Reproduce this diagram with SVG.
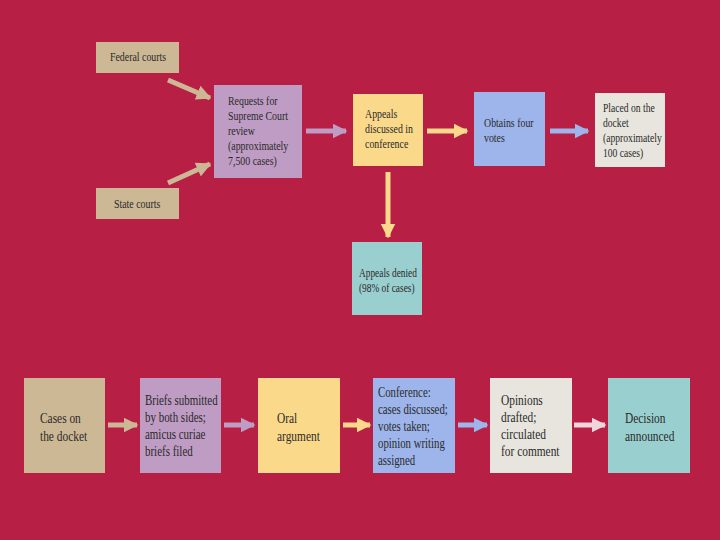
<svg xmlns="http://www.w3.org/2000/svg" width="720" height="540" viewBox="0 0 720 540">
<defs>
<style>
text{font-family:"Liberation Serif","DejaVu Serif",serif;font-size:13px;fill:#2a2a2a}
text.b{font-size:15px}
.tan{fill:#CDB896}.pur{fill:#BE9CC3}.yel{fill:#FBD98A}.blu{fill:#9DB5EB}.gry{fill:#E7E5DD}.tea{fill:#9ACFCF}
.c{stroke-width:5;fill:none}
</style>
<marker id="aT" viewBox="0 0 10 10" refX="9" refY="5" markerWidth="3" markerHeight="3" orient="auto"><path d="M0,0L10,5L0,10z" fill="#CDB896"/></marker>
<marker id="aP" viewBox="0 0 10 10" refX="9" refY="5" markerWidth="3" markerHeight="3" orient="auto"><path d="M0,0L10,5L0,10z" fill="#BE9CC3"/></marker>
<marker id="aY" viewBox="0 0 10 10" refX="9" refY="5" markerWidth="3" markerHeight="3" orient="auto"><path d="M0,0L10,5L0,10z" fill="#FBD98A"/></marker>
<marker id="aB" viewBox="0 0 10 10" refX="9" refY="5" markerWidth="3" markerHeight="3" orient="auto"><path d="M0,0L10,5L0,10z" fill="#9DB5EB"/></marker>
<marker id="aG" viewBox="0 0 10 10" refX="9" refY="5" markerWidth="3" markerHeight="3" orient="auto"><path d="M0,0L10,5L0,10z" fill="#F0D6DC"/></marker>
</defs>
<rect width="720" height="540" fill="#B71F44"/>
<g id="connectors">
<line class="c" x1="168" y1="80" x2="210" y2="98" stroke="#CDB896" marker-end="url(#aT)"/>
<line class="c" x1="168" y1="183" x2="210" y2="164" stroke="#CDB896" marker-end="url(#aT)"/>
<line class="c" x1="306" y1="131" x2="346" y2="131" stroke="#BE9CC3" marker-end="url(#aP)"/>
<line class="c" x1="427" y1="131" x2="467" y2="131" stroke="#FBD98A" marker-end="url(#aY)"/>
<line class="c" x1="550" y1="131" x2="588" y2="131" stroke="#9DB5EB" marker-end="url(#aB)"/>
<line class="c" x1="388" y1="172" x2="388" y2="237" stroke="#FBD98A" marker-end="url(#aY)"/>
<line class="c" x1="108" y1="425" x2="137" y2="425" stroke="#CDB896" marker-end="url(#aT)"/>
<line class="c" x1="224" y1="425" x2="254" y2="425" stroke="#BE9CC3" marker-end="url(#aP)"/>
<line class="c" x1="343" y1="425" x2="370" y2="425" stroke="#FBD98A" marker-end="url(#aY)"/>
<line class="c" x1="458" y1="425" x2="487" y2="425" stroke="#9DB5EB" marker-end="url(#aB)"/>
<line class="c" x1="574" y1="425" x2="605" y2="425" stroke="#F0D6DC" marker-end="url(#aG)"/>
</g>
<g id="federal"><rect class="tan" x="96" y="42" width="83" height="31"/><g transform="translate(110,0) scale(0.76,1)"><text x="0" y="61">Federal courts</text></g></g>
<g id="state"><rect class="tan" x="96" y="188" width="83" height="31"/><g transform="translate(114,0) scale(0.76,1)"><text x="0" y="208">State courts</text></g></g>
<g id="requests"><rect class="pur" x="214" y="85" width="88" height="93"/><g transform="translate(228,0) scale(0.76,1)"><text x="0" y="105">Requests for</text><text x="0" y="120">Supreme Court</text><text x="0" y="135">review</text><text x="0" y="150">(approximately</text><text x="0" y="165">7,500 cases)</text></g></g>
<g id="appeals"><rect class="yel" x="353" y="94" width="70" height="72"/><g transform="translate(365,0) scale(0.76,1)"><text x="0" y="118">Appeals</text><text x="0" y="133">discussed in</text><text x="0" y="148">conference</text></g></g>
<g id="votes"><rect class="blu" x="474" y="92" width="71" height="74"/><g transform="translate(484,0) scale(0.76,1)"><text x="0" y="127">Obtains four</text><text x="0" y="142">votes</text></g></g>
<g id="placed"><rect class="gry" x="595" y="93" width="70" height="74"/><g transform="translate(603,0) scale(0.74,1)"><text x="0" y="112">Placed on the</text><text x="0" y="127">docket</text><text x="0" y="142">(approximately</text><text x="0" y="157">100 cases)</text></g></g>
<g id="denied"><rect class="tea" x="352" y="242" width="70" height="73"/><g transform="translate(359,0) scale(0.72,1)"><text x="0" y="277">Appeals denied</text><text x="0" y="292">(98% of cases)</text></g></g>
<g id="cases"><rect class="tan" x="24" y="378" width="81" height="95"/><g transform="translate(40,0) scale(0.76,1)"><text class="b" x="0" y="423">Cases on</text><text class="b" x="0" y="441">the docket</text></g></g>
<g id="briefs"><rect class="pur" x="140" y="378" width="81" height="95"/><g transform="translate(145,0) scale(0.73,1)"><text class="b" x="0" y="405">Briefs submitted</text><text class="b" x="0" y="422">by both sides;</text><text class="b" x="0" y="439">amicus curiae</text><text class="b" x="0" y="456">briefs filed</text></g></g>
<g id="oral"><rect class="yel" x="258" y="378" width="82" height="95"/><g transform="translate(277,0) scale(0.76,1)"><text class="b" x="0" y="423">Oral</text><text class="b" x="0" y="441">argument</text></g></g>
<g id="conference"><rect class="blu" x="373" y="378" width="82" height="95"/><g transform="translate(378,0) scale(0.72,1)"><text class="b" x="0" y="397">Conference:</text><text class="b" x="0" y="414">cases discussed;</text><text class="b" x="0" y="431">votes taken;</text><text class="b" x="0" y="448">opinion writing</text><text class="b" x="0" y="465">assigned</text></g></g>
<g id="opinions"><rect class="gry" x="490" y="378" width="82" height="95"/><g transform="translate(501,0) scale(0.76,1)"><text class="b" x="0" y="405">Opinions</text><text class="b" x="0" y="422">drafted;</text><text class="b" x="0" y="439">circulated</text><text class="b" x="0" y="456">for comment</text></g></g>
<g id="decision"><rect class="tea" x="608" y="378" width="82" height="95"/><g transform="translate(625,0) scale(0.76,1)"><text class="b" x="0" y="423">Decision</text><text class="b" x="0" y="441">announced</text></g></g>
</svg>
